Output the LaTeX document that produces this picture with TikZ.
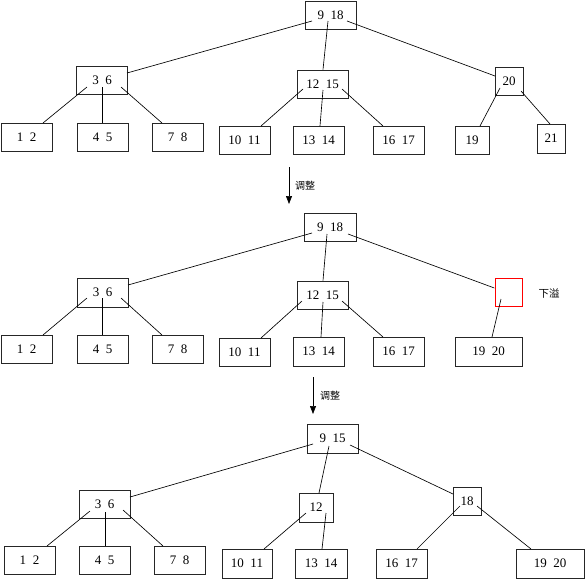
\documentclass[tikz,border=0pt]{standalone}
\usepackage{fontspec}
\setmainfont{Liberation Serif}
\newfontfamily\cjk{Noto Sans CJK SC}
\usetikzlibrary{calc,arrows.meta}
\newcommand{\kk}{\hspace{6.5pt}}
\begin{document}
\begin{tikzpicture}[x=1pt,y=-1pt,
  bx/.style={draw=black!85,line width=0.8pt,inner sep=0pt,minimum height=28pt,
    font=\fontsize{13}{13}\selectfont},
  w51/.style={minimum width=51pt},
  w34/.style={minimum width=34pt},
  w28/.style={minimum width=28pt},
  w67/.style={minimum width=67pt},
  redbox/.style={draw=red,line width=1.3pt,inner sep=0pt,minimum width=27pt,minimum height=28pt},
  edge/.style={line width=0.65pt},
  adj/.style={line width=0.7pt,-{Triangle[width=6pt,length=8pt]}},
  lab/.style={font=\cjk\fontsize{10}{10}\selectfont,inner sep=0pt}]
\useasboundingbox (0,0) rectangle (585,579);
% ---------- top tree ----------
\node[bx,w51] (r1) at (330.5,15) {9\kk18};
\node[bx,w51] (a1) at (102,80) {3\kk6};
\node[bx,w51] (b1) at (322.5,84) {12\kk15};
\node[bx,w28] (c1) at (509,81) {20};
\node[bx,w51] (l1) at (26.5,137) {1\kk2};
\node[bx,w51] (l2) at (102.5,137) {4\kk5};
\node[bx,w51] (l3) at (177.5,137) {7\kk8};
\node[bx,w51] (l4) at (244.5,140) {10\kk11};
\node[bx,w51] (l5) at (318.5,140) {13\kk14};
\node[bx,w51] (l6) at (398.5,140) {16\kk17};
\node[bx,w34] (l7) at (472,140) {19};
\node[bx,w28,minimum height=29pt] (l8) at (551,138.5) {21};
\draw[edge] ($(r1)+(-18.5,6)$) -- ($(a1)+(25,-7)$);
\draw[edge] ($(r1)+(-2.5,6)$) -- ($(b1.north)+(0.5,0)$);
\draw[edge] ($(r1)+(16.5,6)$) -- ($(c1)+(-14,-5)$);
\draw[edge] ($(a1)+(-15,7)$) -- ($(l1)+(16.5,-14)$);
\draw[edge] ($(a1)+(0,7)$) -- ($(l2.north)+(-0.5,0)$);
\draw[edge] ($(a1)+(19,7)$) -- ($(l3)+(-15.5,-14)$);
\draw[edge] ($(b1)+(-19.5,5)$) -- ($(l4)+(16.5,-14)$);
\draw[edge] ($(b1)+(0.5,6)$) -- ($(l5)+(1.5,-14)$);
\draw[edge] ($(b1)+(19.5,5)$) -- ($(l6)+(-15.5,-14)$);
\draw[edge] ($(c1)+(-9,7)$) -- ($(l7)+(8,-14)$);
\draw[edge] ($(c1)+(12,10)$) -- ($(l8)+(-1,-14.5)$);
% ---------- arrow 1 ----------
\coordinate (s1) at (289,167);
\coordinate (e1) at (289,204);
\draw[adj] (s1) -- (e1);
\node[lab] (t1) at (305,186) {调整};
% ---------- middle tree ----------
\node[bx,minimum width=52pt] (r2) at (330,227) {9\kk18};
\node[bx,w51,minimum height=29pt] (a2) at (102.5,292.5) {3\kk6};
\node[bx,w51] (b2) at (322.5,295) {12\kk15};
\node[redbox] (c2) at (509,292.5) {};
\node[lab,font=\cjk\fontsize{10.5}{10.5}\selectfont] (t2) at (549,294) {下溢};
\node[bx,w51] (m1) at (26.5,349) {1\kk2};
\node[bx,w51] (m2) at (102.5,349) {4\kk5};
\node[bx,w51] (m3) at (177.5,349) {7\kk8};
\node[bx,w51] (m4) at (244.5,352) {10\kk11};
\node[bx,w51,minimum height=29pt] (m5) at (318.5,351.5) {13\kk14};
\node[bx,w51,minimum height=29pt] (m6) at (398.5,351.5) {16\kk17};
\node[bx,w67,minimum height=29pt] (m7) at (488.5,351.5) {19\kk20};
\draw[edge] ($(r2)+(-18,6)$) -- ($(a2)+(25.5,-7.5)$);
\draw[edge] ($(r2)+(-3,7)$) -- ($(b2.north)+(0.5,0)$);
\draw[edge] ($(r2)+(18,7)$) -- ($(c2.west)+(-0.5,-4.5)$);
\draw[edge] ($(c2)+(-8,6.5)$) -- ($(m7)+(3.5,-14.5)$);
\draw[edge] ($(a2)+(-15.5,5.5)$) -- ($(m1)+(16.5,-14)$);
\draw[edge] ($(a2)+(-0.5,5.5)$) -- ($(m2.north)+(-0.5,0)$);
\draw[edge] ($(a2)+(18.5,5.5)$) -- ($(m3)+(-15.5,-14)$);
\draw[edge] ($(b2)+(-20.5,6)$) -- ($(m4)+(16.5,-14)$);
\draw[edge] ($(b2)+(0.5,7)$) -- ($(m5)+(2.5,-14.5)$);
\draw[edge] ($(b2)+(19.5,6)$) -- ($(m6)+(-15.5,-14.5)$);
% ---------- arrow 2 ----------
\coordinate (s2) at (313,377);
\coordinate (e2) at (313,414);
\draw[adj] (s2) -- (e2);
\node[lab] (t3) at (330,396) {调整};
% ---------- bottom tree ----------
\node[bx,w51,minimum height=29pt] (r3) at (332.5,438.5) {9\kk15};
\node[bx,w51] (a3) at (104.5,504) {3\kk6};
\node[bx,w34,minimum height=29pt] (b3) at (316,507.5) {12};
\node[bx,w28] (c3) at (467,501) {18};
\node[bx,w51] (n1) at (29.5,560) {1\kk2};
\node[bx,w51] (n2) at (104.5,560) {4\kk5};
\node[bx,w51] (n3) at (179.5,560) {7\kk8};
\node[bx,minimum width=50pt,minimum height=29pt] (n4) at (247,563.5) {10\kk11};
\node[bx,minimum width=52pt,minimum height=29pt] (n5) at (321,563.5) {13\kk14};
\node[bx,w51,minimum height=29pt] (n6) at (401.5,563.5) {16\kk17};
\node[bx,minimum width=68pt,minimum height=29pt] (n7) at (550,563.5) {19\kk20};
\draw[edge] ($(r3)+(-19.5,5.5)$) -- ($(a3)+(25.5,-7)$);
\draw[edge] ($(r3)+(-3.5,7.5)$) -- ($(b3)+(3,-14.5)$);
\draw[edge] ($(r3)+(17.5,6.5)$) -- ($(c3)+(-14,-7)$);
\draw[edge] ($(a3)+(-14.5,7)$) -- ($(n1)+(17.5,-14)$);
\draw[edge] ($(a3)+(0.5,8)$) -- ($(n2.north)+(0.5,0)$);
\draw[edge] ($(a3)+(18.5,6)$) -- ($(n3)+(-16.5,-14)$);
\draw[edge] ($(b3)+(-10,5.5)$) -- ($(n4)+(17,-14.5)$);
\draw[edge] ($(b3)+(10,5.5)$) -- ($(n5)+(1,-14.5)$);
\draw[edge] ($(c3)+(-7,5)$) -- ($(n6)+(15.5,-14.5)$);
\draw[edge] ($(c3)+(10,5)$) -- ($(n7)+(-19,-14.5)$);
\end{tikzpicture}
\end{document}
